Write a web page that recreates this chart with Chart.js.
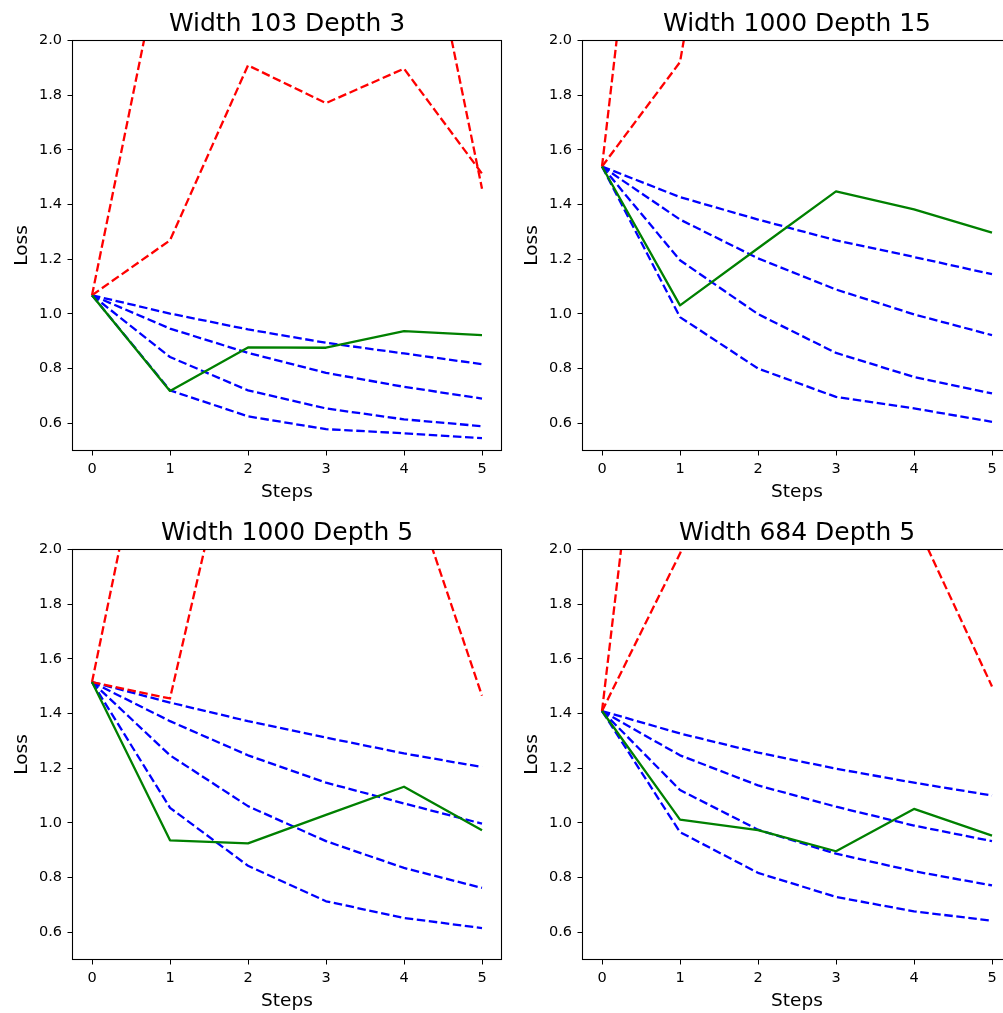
<!DOCTYPE html>
<html><head><meta charset="utf-8">
<script src="https://cdn.jsdelivr.net/npm/chart.js@4.4.0/dist/chart.umd.min.js"></script>
<style>
html,body{margin:0;padding:0;background:#fff;overflow:hidden;width:1003px;height:1013px;position:relative;}
canvas{position:absolute;}
</style></head><body>
<canvas id="c0" width="510" height="510" style="left:0px;top:0px;width:510px;height:510px"></canvas>
<canvas id="c1" width="510" height="510" style="left:510px;top:0px;width:510px;height:510px"></canvas>
<canvas id="c2" width="510" height="510" style="left:0px;top:509px;width:510px;height:510px"></canvas>
<canvas id="c3" width="510" height="510" style="left:510px;top:509px;width:510px;height:510px"></canvas>
<script>
// ---- data ----
const steps = [0, 1, 2, 3, 4, 5];
const xTicks = [0, 1, 2, 3, 4, 5];
const yTicks = [0.6, 0.8, 1.0, 1.2, 1.4, 1.6, 1.8, 2.0];
const titles = ["Width 103 Depth 3", "Width 1000 Depth 15", "Width 1000 Depth 5", "Width 684 Depth 5"];

// Width 103 Depth 3
const p1RedA  = [1.068, 2.466, 3.2, 3.1, 2.855, 1.458];
const p1RedB  = [1.068, 1.269, 1.909, 1.771, 1.897, 1.513];
const p1Blue1 = [1.068, 1.001, 0.943, 0.894, 0.855, 0.816];
const p1Blue2 = [1.068, 0.946, 0.857, 0.784, 0.733, 0.690];
const p1Blue3 = [1.068, 0.842, 0.720, 0.654, 0.614, 0.589];
const p1Blue4 = [1.068, 0.720, 0.625, 0.578, 0.563, 0.545];
const p1Green = [1.068, 0.718, 0.877, 0.876, 0.937, 0.922];

// Width 1000 Depth 15
const p2RedA  = [1.539, 4.0, 4.4, 4.6, 4.7, 4.8];
const p2RedB  = [1.539, 1.921, 3.56, 3.9, 4.1, 4.2];
const p2Blue1 = [1.539, 1.427, 1.345, 1.269, 1.208, 1.145];
const p2Blue2 = [1.539, 1.345, 1.203, 1.089, 0.998, 0.922];
const p2Blue3 = [1.539, 1.196, 0.999, 0.857, 0.769, 0.709];
const p2Blue4 = [1.539, 0.988, 0.800, 0.696, 0.654, 0.605];
const p2Green = [1.539, 1.031, 1.240, 1.448, 1.382, 1.297];

// Width 1000 Depth 5
const p3RedA  = [1.515, 2.90, 3.4, 3.2, 2.311, 1.465];
const p3RedB  = [1.515, 1.455, 2.69, 3.3, 3.6, 3.8];
const p3Blue1 = [1.515, 1.440, 1.372, 1.312, 1.254, 1.204];
const p3Blue2 = [1.515, 1.372, 1.247, 1.147, 1.071, 0.997];
const p3Blue3 = [1.515, 1.247, 1.061, 0.933, 0.835, 0.762];
const p3Blue4 = [1.515, 1.055, 0.843, 0.713, 0.652, 0.615];
const p3Green = [1.515, 0.936, 0.925, 1.029, 1.132, 0.973];

// Width 684 Depth 5
const p4RedA  = [1.409, 3.83, 3.6, 3.3, 2.112, 1.499];
const p4RedB  = [1.409, 1.985, 2.7, 3.2, 3.5, 3.7];
const p4Blue1 = [1.409, 1.327, 1.257, 1.198, 1.147, 1.100];
const p4Blue2 = [1.409, 1.247, 1.137, 1.059, 0.990, 0.933];
const p4Blue3 = [1.409, 1.120, 0.975, 0.887, 0.823, 0.771];
const p4Blue4 = [1.409, 0.966, 0.817, 0.729, 0.676, 0.642];
const p4Green = [1.409, 1.012, 0.973, 0.896, 1.051, 0.953];

const panels = [
  {red: [p1RedA, p1RedB], blue: [p1Blue1, p1Blue2, p1Blue3, p1Blue4], green: p1Green},
  {red: [p2RedA, p2RedB], blue: [p2Blue1, p2Blue2, p2Blue3, p2Blue4], green: p2Green},
  {red: [p3RedA, p3RedB], blue: [p3Blue1, p3Blue2, p3Blue3, p3Blue4], green: p3Green},
  {red: [p4RedA, p4RedB], blue: [p4Blue1, p4Blue2, p4Blue3, p4Blue4], green: p4Green}
];

// ---- drawing ----
const FAM = "'DejaVu Sans', sans-serif";
const DASH = [8.5, 3.6];
const toPts = arr => steps.map((s, i) => ({x: s, y: arr[i]}));

const framePlugin = {
  id: 'frame',
  afterDatasetsDraw(chart) {
    const {ctx, chartArea: a} = chart;
    ctx.save();
    ctx.strokeStyle = '#000';
    ctx.lineWidth = 1.1;
    ctx.strokeRect(a.left, a.top, a.right - a.left, a.bottom - a.top);
    ctx.restore();
  }
};

function lineDs(arr, color, dashed, order) {
  return {
    data: toPts(arr),
    borderColor: color,
    borderWidth: 2.3,
    borderDash: dashed ? DASH : [],
    borderJoinStyle: 'round',
    pointRadius: 0,
    fill: false,
    tension: 0,
    clip: 0,
    order: order
  };
}

panels.forEach((p, idx) => {
  const datasets = [];
  datasets.push(lineDs(p.green, '#008000', false, 0));
  p.red.forEach(r => datasets.push(lineDs(r, '#ff0000', true, 1)));
  p.blue.forEach(b => datasets.push(lineDs(b, '#0000ff', true, 2)));

  new Chart(document.getElementById('c' + idx), {
    type: 'line',
    data: {datasets},
    plugins: [framePlugin],
    options: {
      responsive: false,
      animation: false,
      devicePixelRatio: 1,
      layout: {padding: {left: 0, right: 8.5, top: 0, bottom: 0}},
      plugins: {
        legend: {display: false},
        tooltip: {enabled: false},
        title: {
          display: true, text: titles[idx], fullSize: false, color: '#000',
          font: {family: FAM, size: 25, weight: 'normal'},
          padding: {top: 9, bottom: 1.5}
        }
      },
      scales: {
        x: {
          type: 'linear', min: -0.25, max: 5.25,
          afterBuildTicks: s => { s.ticks = xTicks.map(v => ({value: v})); },
          afterFit: s => { s.height = 59.5; },
          ticks: {color: '#000', font: {family: FAM, size: 14.5}, padding: 5, maxRotation: 0, autoSkip: false,
                  callback: v => String(v)},
          grid: {drawOnChartArea: false, drawTicks: true, tickLength: 5, color: '#000', lineWidth: 1},
          border: {display: false},
          title: {display: true, text: 'Steps', color: '#000', font: {family: FAM, size: 18.5},
                  padding: {top: 0, bottom: 6.9}}
        },
        y: {
          type: 'linear', min: 0.5, max: 2.0,
          afterBuildTicks: s => { s.ticks = yTicks.map(v => ({value: v})); },
          afterFit: s => { s.width = 72.5; },
          ticks: {color: '#000', font: {family: FAM, size: 14.5}, padding: 5.5, autoSkip: false,
                  callback: v => Number(v).toFixed(1)},
          grid: {drawOnChartArea: false, drawTicks: true, tickLength: 5, color: '#000', lineWidth: 1},
          border: {display: false},
          title: {display: true, text: 'Loss', color: '#000', font: {family: FAM, size: 18.5},
                  padding: {top: 11, bottom: 0}}
        }
      }
    }
  });
});
</script>
</body></html>
